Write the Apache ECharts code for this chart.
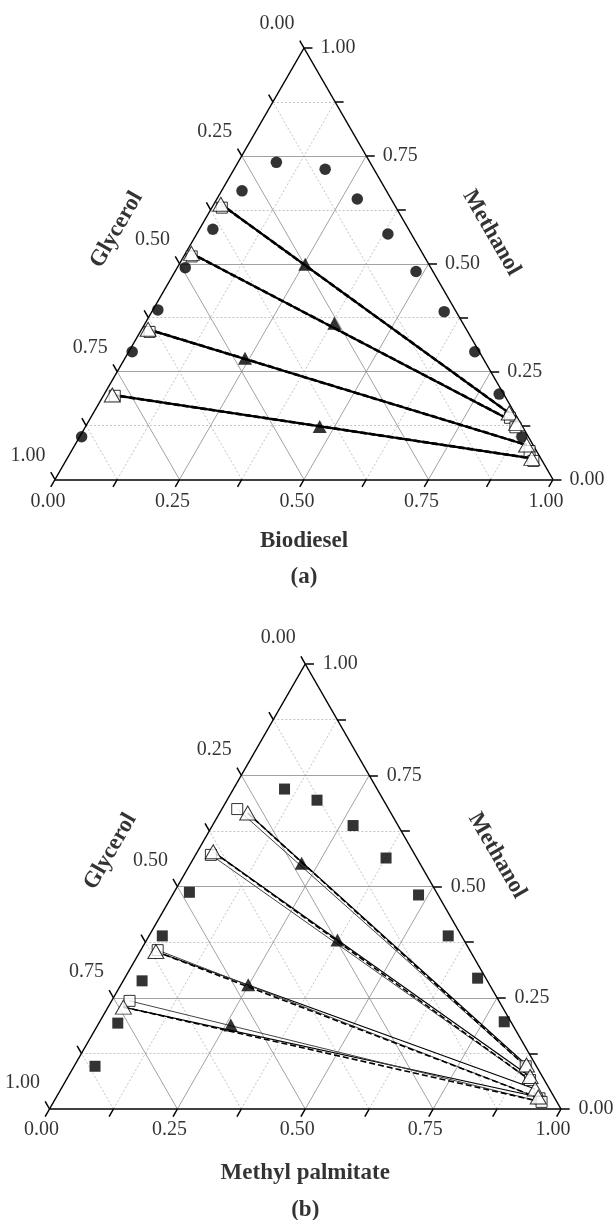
<!DOCTYPE html>
<html><head><meta charset="utf-8">
<script src="https://cdn.jsdelivr.net/npm/echarts@6/dist/echarts.min.js"></script>
<style>html,body{margin:0;padding:0;background:#fff}#c{width:616px;height:1220px}</style>
</head><body><div id="c"></div>
<script>
// ===== DATA: ternary compositions [ester fraction, methanol fraction]; glycerol = 1 - both =====
const tickValues = [0, 0.25, 0.5, 0.75, 1];
const tickLabels = ['0.00', '0.25', '0.50', '0.75', '1.00'];
const gridSteps = [0.125, 0.25, 0.375, 0.5, 0.625, 0.75, 0.875];
const tickSteps = [0, 0.125, 0.25, 0.375, 0.5, 0.625, 0.75, 0.875, 1];

// panel (a): Biodiesel / Methanol / Glycerol
const aBottomTitle = 'Biodiesel';
const aPanelLabel = '(a)';
const aBinodal = [[0.004,0.099],[0.007,0.296],[0.010,0.393],[0.016,0.491],[0.027,0.580],[0.041,0.669],[0.077,0.735],[0.183,0.719],[0.282,0.650],[0.384,0.569],[0.484,0.482],[0.587,0.389],[0.695,0.296],[0.793,0.198],[0.888,0.099]];
const aExpLeft   = [[0.014,0.638],[0.012,0.524],[0.013,0.348],[0.017,0.196]];
const aExpRight  = [[0.835,0.154],[0.862,0.130],[0.907,0.080],[0.933,0.049]];
const aFeed      = [[0.253,0.499],[0.380,0.362],[0.241,0.281],[0.470,0.123]];
const aModelLeft = [[0.020,0.630],[0.016,0.517],[0.019,0.342],[0.023,0.194]];
const aModelRight= [[0.842,0.143],[0.864,0.121],[0.920,0.066],[0.939,0.043]];

// panel (b): Methyl palmitate / Methanol / Glycerol
const bBottomTitle = 'Methyl palmitate';
const bPanelLabel = '(b)';
const bBinodal = [[0.041,0.096],[0.037,0.193],[0.037,0.288],[0.026,0.389],[0.030,0.487],[0.100,0.719],[0.176,0.694],[0.275,0.637],[0.376,0.564],[0.481,0.481],[0.585,0.389],[0.690,0.294],[0.791,0.196]];
const bExpLeft   = [[0.055,0.665],[0.031,0.578],[0.031,0.354],[0.030,0.229]];
const bExpRight  = [[0.883,0.099],[0.903,0.073],[0.927,0.045],[0.942,0.027]];
const bFeed      = [[0.217,0.552],[0.373,0.380],[0.249,0.279],[0.260,0.189]];
const bModelLeft = [[0.030,0.674],[0.030,0.571],[0.033,0.357],[0.035,0.243]];
const bModelRight= [[0.883,0.096],[0.907,0.065],[0.946,0.024],[0.954,0.016]];

// ===== helpers =====
const FONT = "'Liberation Serif','Times New Roman',serif";
function tp(p){ return [p[0] + p[1] / 2, p[1]]; }   // ternary -> data coords of the cartesian grid
// label offsets are applied in the rotated text frame; convert a screen offset into that frame
function rotOff(d, deg){
  const r = deg * Math.PI / 180, c = Math.cos(r), s = Math.sin(r);
  return [d[0] * c - d[1] * s, d[0] * s + d[1] * c];
}

const chart = echarts.init(document.getElementById('c'), null, {renderer:'canvas'});

function panel(i, cfg){
  const ax = {xAxisIndex:i, yAxisIndex:i};
  const s = [];
  const L = (data, style, z) => Object.assign({type:'lines', coordinateSystem:'cartesian2d', clip:false,
    silent:true, z:z, lineStyle:Object.assign({opacity:1}, style), data:data}, ax);
  // grid lines
  const major = [], minor = [];
  gridSteps.forEach((v, k) => {
    const arr = (k % 2 === 1) ? major : minor;
    arr.push({coords:[tp([0,v]), tp([1-v,v])]});
    arr.push({coords:[tp([v,0]), tp([v,1-v])]});
    arr.push({coords:[tp([1-v,0]), tp([0,1-v])]});
  });
  s.push(L(minor, {color:'#b4b4b4', width:0.8, type:[2,2]}, 1));
  s.push(L(major, {color:'#8a8a8a', width:0.8, type:'solid'}, 1));
  // triangle sides + ticks
  const frame = [
    {coords:[tp([0,0]), tp([1,0])]},
    {coords:[tp([1,0]), tp([0,1])]},
    {coords:[tp([0,1]), tp([0,0])]}
  ];
  const t = 0.017;
  tickSteps.forEach(v => {
    frame.push({coords:[tp([v,0]), tp([v,-t])]});            // bottom (ester)
    frame.push({coords:[tp([1-v,v]), tp([1-v+t,v])]});        // right (methanol)
    frame.push({coords:[tp([0,1-v]), tp([-t,1-v+t])]});       // left (glycerol)
  });
  s.push(L(frame, {color:'#000', width:1.5}, 3));
  // tie lines
  const expLines = cfg.expL.map((p, k) => ({coords:[tp(p), tp(cfg.expR[k])]}));
  const modLines = cfg.modL.map((p, k) => ({coords:[tp(p), tp(cfg.modR[k])]}));
  s.push(L(expLines, {color:'#000', width:cfg.expW}, 4));
  if (cfg.panelB) {
    s.push(L(modLines, {color:'#444', width:1}, 4));
    const dashLines = cfg.expL.map((p, k) => ({coords:[tp(p), tp(cfg.modR[k])]}));
    s.push(L(dashLines, {color:'#000', width:1.6, type:[6,3]}, 4));
  } else {
    // predicted tie lines almost coincide with the experimental ones
    const dashLines = cfg.expL.map((p, k) => ({coords:[tp(p), tp(cfg.expR[k])]}));
    s.push(L(dashLines, {color:'#000', width:2.6, type:[6,3], dashOffset:1}, 4));
  }
  // markers
  s.push(Object.assign({type:'scatter', clip:false, z:6, symbol:cfg.binSymbol, symbolSize:cfg.binSize,
    itemStyle:{color:'#000'}, data:cfg.bin.map(tp)}, ax));
  s.push(Object.assign({type:'scatter', clip:false, z:6, symbol:'rect', symbolSize:11,
    itemStyle:{color:'#fff', borderColor:'#000', borderWidth:1}, data:cfg.modL.concat(cfg.modR).map(tp)}, ax));
  s.push(Object.assign({type:'scatter', clip:false, z:7, symbol:'triangle', symbolSize:[16,14],
    itemStyle:{color:'#fff', borderColor:'#000', borderWidth:1}, data:cfg.expL.concat(cfg.expR).map(tp)}, ax));
  s.push(Object.assign({type:'scatter', clip:false, z:7, symbol:'triangle', symbolSize:[14,13],
    itemStyle:{color:'#000'}, data:cfg.feed.map(tp)}, ax));
  // texts
  function txt(points, names, off, style){
    return Object.assign({type:'scatter', clip:false, z:10, symbolSize:1, silent:true,
      itemStyle:{color:'rgba(0,0,0,0)'},
      label:Object.assign({show:true, position:'inside', offset:off, formatter:'{b}', color:'#000',
        fontFamily:FONT, fontSize:20, align:'center', verticalAlign:'middle'}, style||{}),
      data:points.map((p, k) => ({name:names[k], value:tp(p)}))}, ax);
  }
  s.push(txt(tickValues.map(v => [v,0]), tickLabels, cfg.offB));
  s.push(txt(tickValues.map(v => [1-v,v]), tickLabels, cfg.offR));
  s.push(txt(tickValues.map(v => [0,1-v]), tickLabels, cfg.offL));
  const bold = {fontWeight:'bold', fontSize:23};
  s.push(txt([[0,0.5]], ['Glycerol'], rotOff(cfg.offGly, 60), Object.assign({rotate:60}, bold)));
  s.push(txt([[0.5,0.5]], ['Methanol'], rotOff(cfg.offMet, -60), Object.assign({rotate:-60}, bold)));
  s.push(txt([[0.5,0]], [cfg.title], cfg.offTitle, bold));
  s.push(txt([[0.5,0]], [cfg.panel], cfg.offPanel, bold));
  return s;
}

const series = [].concat(
  panel(0, {bin:aBinodal, expL:aExpLeft, expR:aExpRight, feed:aFeed, modL:aModelLeft, modR:aModelRight,
    binSymbol:'circle', binSize:11.5, expW:2.2, panelB:false,
    offB:[-7,22], offR:[34,0], offL:[-27,-24], offGly:[-63,-34], offMet:[63,-31],
    offTitle:[0,62], offPanel:[0,98], title:aBottomTitle, panel:aPanelLabel}),
  panel(1, {bin:bBinodal, expL:bExpLeft, expR:bExpRight, feed:bFeed, modL:bModelLeft, modR:bModelRight,
    binSymbol:'rect', binSize:11, expW:1.2, panelB:true,
    offB:[-8,21], offR:[35,0], offL:[-27,-26], offGly:[-67,-35], offMet:[64,-31],
    offTitle:[0,64], offPanel:[0,101], title:bBottomTitle, panel:bPanelLabel})
);

chart.setOption({
  animation:false,
  backgroundColor:'#fff',
  grid:[
    {left:55, top:48, width:498, height:431.5},
    {left:49.5, top:664, width:511.5, height:445}
  ],
  xAxis:[
    {gridIndex:0, type:'value', min:0, max:1, show:false},
    {gridIndex:1, type:'value', min:0, max:1, show:false}
  ],
  yAxis:[
    {gridIndex:0, type:'value', min:0, max:1, show:false},
    {gridIndex:1, type:'value', min:0, max:1, show:false}
  ],
  series:series
});
</script>
</body></html>
